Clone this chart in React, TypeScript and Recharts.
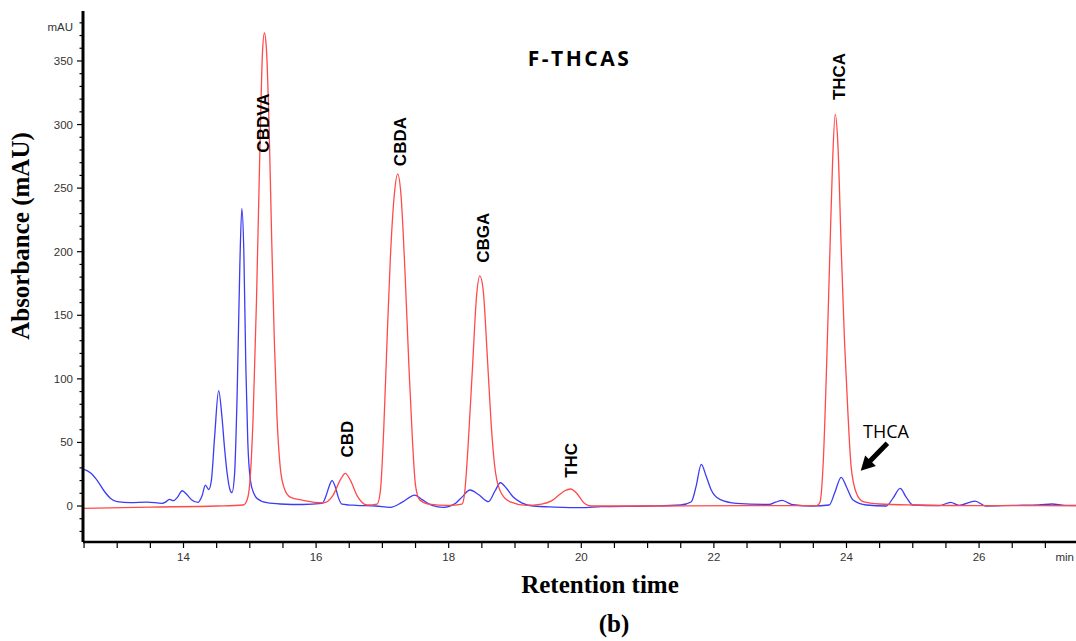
import { LineChart, Line, XAxis, YAxis, ReferenceDot, ReferenceLine } from 'recharts';

// retention time (min), absorbance (mAU)
const blankTrace: [number, number][] = [
  [12.484, 29], [12.6, 26], [12.7, 20], [12.8, 12], [12.9, 6], [13.0, 3.5], [13.2, 2.6],
  [13.45, 3.1], [13.68, 2.1], [13.74, 3.5], [13.79, 5.2], [13.85, 4.2], [13.91, 7], [13.98, 12],
  [14.05, 9], [14.12, 5], [14.22, 2.9], [14.28, 8], [14.33, 16.5], [14.38, 13], [14.42, 20],
  [14.47, 55], [14.53, 90.7], [14.58, 70], [14.62, 45], [14.66, 25], [14.7, 13], [14.73, 10.5],
  [14.77, 25], [14.81, 90], [14.85, 190], [14.88, 234], [14.91, 200], [14.94, 110], [14.97, 50],
  [15.01, 20], [15.06, 10], [15.11, 6], [15.26, 2.6], [15.46, 1.6], [15.8, 1.2], [16.09, 2],
  [16.15, 8], [16.2, 16], [16.24, 20], [16.29, 15], [16.34, 6], [16.39, 1.5], [16.6, 0.5],
  [16.9, 0], [17.12, -1], [17.3, 3], [17.49, 8.6], [17.6, 5], [17.75, 0.5], [17.92, -1],
  [18.1, 2], [18.2, 7], [18.32, 12.6], [18.45, 9], [18.6, 3.4], [18.7, 12], [18.78, 18.3],
  [18.87, 14], [18.97, 7.3], [19.1, 2.5], [19.28, 0], [19.6, -0.8], [20.0, -1.3], [20.3, -0.5],
  [21.0, 0], [21.5, 0.8], [21.66, 3.4], [21.73, 15], [21.81, 32.8], [21.88, 24], [21.96, 12.6],
  [22.09, 5.2], [22.34, 2.1], [22.84, 1.3], [22.93, 3], [23.03, 4.5], [23.12, 2.5], [23.19, 1],
  [23.49, 0], [23.74, 0.8], [23.82, 10], [23.92, 22.6], [24.0, 15], [24.1, 4.7], [24.3, 0.8],
  [24.6, 0], [24.7, 6], [24.81, 13.9], [24.9, 7], [25.0, 0.8], [25.4, 0.3], [25.57, 2.9],
  [25.7, 0.5], [25.94, 3.9], [26.1, 0], [26.5, 0.5], [26.9, 0.8], [27.1, 1.6], [27.3, 0.5],
  [27.824, 0.5],
];

const standardTrace: [number, number][] = [
  [12.484, -1.8], [13.5, -0.8], [14.5, 0], [14.9, 0.8], [14.96, 5], [15.0, 18], [15.05, 70],
  [15.1, 160], [15.15, 275], [15.19, 355], [15.22, 372], [15.25, 360], [15.29, 300], [15.33, 210],
  [15.37, 130], [15.41, 70], [15.46, 30], [15.52, 14], [15.61, 7], [15.8, 4.5], [16.11, 2.5],
  [16.25, 8], [16.37, 21], [16.44, 25.7], [16.52, 20], [16.62, 8], [16.77, 0.8], [16.92, 1.5],
  [16.97, 12], [17.02, 60], [17.07, 130], [17.12, 195], [17.18, 245], [17.23, 261], [17.28, 245],
  [17.34, 185], [17.4, 110], [17.45, 55], [17.5, 16], [17.56, 5], [17.7, 1.5], [18.0, 0.5],
  [18.2, 1.5], [18.24, 10], [18.29, 45], [18.36, 110], [18.42, 165], [18.47, 181], [18.52, 170],
  [18.58, 120], [18.64, 65], [18.69, 33], [18.77, 12.6], [18.92, 3.4], [19.17, 0.5], [19.4, 1.5],
  [19.55, 4], [19.65, 8], [19.75, 12], [19.84, 13.4], [19.93, 10], [20.05, 2], [20.15, 0],
  [21.0, 0], [22.5, 0.3], [23.55, 0.3], [23.6, 3], [23.65, 35], [23.7, 110], [23.75, 200],
  [23.79, 270], [23.83, 308], [23.87, 285], [23.92, 204], [23.97, 130], [24.02, 75], [24.07, 31],
  [24.15, 10], [24.25, 3.5], [24.5, 1.6], [25.0, 0.8], [26.0, 0.3], [27.824, 0.2],
];

const xTicks = [12.5, 13, 13.5, 14, 14.5, 15, 15.5, 16, 16.5, 17, 17.5, 18, 18.5, 19, 19.5, 20,
  20.5, 21, 21.5, 22, 22.5, 23, 23.5, 24, 24.5, 25, 25.5, 26, 26.5, 27, 27.5];
const xLabelled = [14, 16, 18, 20, 22, 24, 26];
const yTicks = [-20, -10, 0, 10, 20, 30, 40, 50, 60, 70, 80, 90, 100, 110, 120, 130, 140, 150,
  160, 170, 180, 190, 200, 210, 220, 230, 240, 250, 260, 270, 280, 290, 300, 310, 320, 330, 340,
  350, 360, 370, 380];
const yLabelled = [0, 50, 100, 150, 200, 250, 300, 350];

// peak names, anchored at the baseline-middle of each rotated label
const peakLabels = [
  { name: 'CBDVA', t: 15.294, v: 301.2 },
  { name: 'CBD', t: 16.561, v: 52.7 },
  { name: 'CBDA', t: 17.356, v: 286.6 },
  { name: 'CBGA', t: 18.612, v: 211 },
  { name: 'THC', t: 19.94, v: 35.9 },
  { name: 'THCA', t: 23.977, v: 337.8 },
];

const toRows = (arr: [number, number][]) => arr.map(([t, v]) => ({ t, v }));
const blankData = toRows(blankTrace);
const standardData = toRows(standardTrace);

const sans = 'Liberation Sans, Arial, sans-serif';
const serif = 'Liberation Serif, Times New Roman, serif';

function YTick({ x, y, payload }: any) {
  const major = yLabelled.includes(payload.value);
  return (
    <g>
      <line x1={x - (major ? 6 : 3.5)} x2={x} y1={y} y2={y} stroke="#000" strokeWidth={1.2} />
      {major && (
        <text x={x - 10} y={y} dy={4} textAnchor="end" fontSize={11.5} fill="#333" fontFamily={sans}>
          {payload.value}
        </text>
      )}
    </g>
  );
}

function XTick({ x, y, payload }: any) {
  const major = xLabelled.includes(payload.value);
  return (
    <g>
      <line x1={x} x2={x} y1={y} y2={y + 6} stroke="#000" strokeWidth={1.2} />
      {major && (
        <text x={x} y={y + 18.5} textAnchor="middle" fontSize={11.5} fill="#333" fontFamily={sans}>
          {payload.value}
        </text>
      )}
    </g>
  );
}

function YTitles({ viewBox }: any) {
  const { x, y, width } = viewBox;
  const cx = x + 29, cy = y + 225;
  return (
    <g>
      <text x={x + width - 10} y={y + 20} textAnchor="end" fontSize={11.5} fill="#333" fontFamily={sans}>mAU</text>
      <text x={cx} y={cy} transform={`rotate(-90 ${cx} ${cy})`} textAnchor="middle"
        fontSize={25} fontWeight="bold" fontFamily={serif} fill="#000">
        Absorbance (mAU)
      </text>
    </g>
  );
}

function XTitles({ viewBox }: any) {
  const { x, y } = viewBox;
  return (
    <g>
      <text x={1074} y={y + 18.5} textAnchor="end" fontSize={11.5} fill="#333" fontFamily={sans}>min</text>
      <text x={x + 517} y={y + 50.7} textAnchor="middle" fontSize={25} fontWeight="bold" fontFamily={serif} fill="#000">
        Retention time
      </text>
      <text x={x + 531} y={y + 90} textAnchor="middle" fontSize={25} fontWeight="bold" fontFamily={serif} fill="#000">
        (b)
      </text>
    </g>
  );
}

function Arrow({ x1, y1, x2, y2 }: any) {
  const dx = x2 - x1, dy = y2 - y1;
  const len = Math.hypot(dx, dy);
  const ux = dx / len, uy = dy / len;
  const head = 14, half = 7.5;
  const bx = x2 - ux * head, by = y2 - uy * head;
  return (
    <g>
      <line x1={x1} y1={y1} x2={bx + ux} y2={by + uy} stroke="#000" strokeWidth={5} />
      <polygon
        points={`${x2},${y2} ${bx - uy * half},${by + ux * half} ${bx + uy * half},${by - ux * half}`}
        fill="#000"
      />
    </g>
  );
}

export default function App() {
  return (
    <div style={{ position: 'fixed', left: 0, top: 0, width: 1076, height: 641, overflow: 'hidden', background: '#fff' }}>
      <LineChart width={1100} height={641} margin={{ top: 11, right: 0, bottom: 69, left: 0 }}>
        <XAxis
          xAxisId="top"
          orientation="top"
          type="number"
          domain={[12.484, 27.824]}
          allowDataOverflow
          height={0}
          tick={false}
          tickLine={false}
          axisLine={{ stroke: '#000', strokeWidth: 2 }}
        />
        <XAxis
          dataKey="t"
          type="number"
          domain={[12.484, 27.824]}
          allowDataOverflow
          ticks={xTicks}
          interval={0}
          height={30}
          tickSize={0}
          tickMargin={0}
          tickLine={false}
          axisLine={{ stroke: '#000', strokeWidth: 2.7 }}
          tick={(p: any) => <XTick {...p} />}
          label={{ content: (p: any) => <XTitles {...p} /> }}
        />
        <YAxis
          type="number"
          domain={[-28.3, 389.3]}
          allowDataOverflow
          ticks={yTicks}
          interval={0}
          width={83}
          tickSize={0}
          tickMargin={0}
          tickLine={false}
          axisLine={{ stroke: '#000', strokeWidth: 3 }}
          tick={(p: any) => <YTick {...p} />}
          label={{ content: (p: any) => <YTitles {...p} /> }}
        />
        <Line data={blankData} dataKey="v" type="monotone" stroke="#3c3cf5" strokeWidth={1.3} dot={false} isAnimationActive={false} />
        <Line data={standardData} dataKey="v" type="monotone" stroke="#ff4a4a" strokeWidth={1.3} dot={false} isAnimationActive={false} />
        {peakLabels.map((p) => (
          <ReferenceDot
            key={p.name}
            x={p.t}
            y={p.v}
            r={0}
            ifOverflow="visible"
            shape={(s: any) => (
              <text x={s.cx} y={s.cy} transform={`rotate(-90 ${s.cx} ${s.cy})`} textAnchor="middle"
                fontSize={17} fontWeight="bold" fontFamily={sans} fill="#000">
                {p.name}
              </text>
            )}
          />
        ))}
        <ReferenceDot
          x={19.973}
          y={346}
          r={0}
          ifOverflow="visible"
          shape={(s: any) => (
            <text x={s.cx} y={s.cy} textAnchor="middle" fontSize={21} fontWeight="bold"
              fontFamily="Open Sans, sans-serif" letterSpacing={2.5} fill="#000">
              F-THCAS
            </text>
          )}
        />
        <ReferenceDot
          x={24.249}
          y={53.5}
          r={0}
          ifOverflow="visible"
          shape={(s: any) => (
            <text x={s.cx} y={s.cy} fontSize={18} fontFamily="Open Sans, sans-serif" fill="#000">THCA</text>
          )}
        />
        <ReferenceLine
          segment={[{ x: 24.617, y: 49.3 }, { x: 24.215, y: 27.8 }]}
          ifOverflow="visible"
          shape={(s: any) => <Arrow {...s} />}
        />
      </LineChart>
    </div>
  );
}
